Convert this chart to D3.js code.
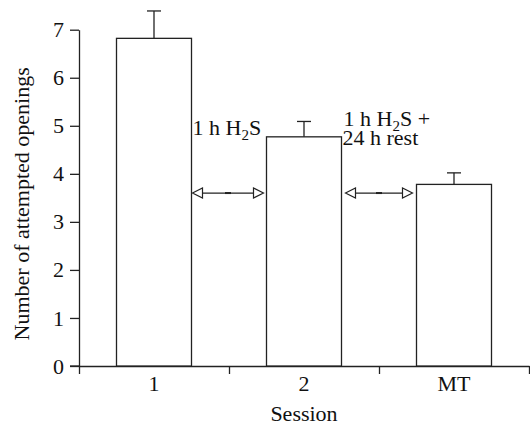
<!DOCTYPE html>
<html>
<head>
<meta charset="utf-8">
<script src="https://cdn.jsdelivr.net/npm/d3@7"></script>
<style>
  body { margin: 0; background: #fff; }
  svg text { font-family: "Times New Roman", "Liberation Serif", Times, serif; fill: #111; }
</style>
</head>
<body>
<svg id="chart" width="530" height="425"></svg>
<script>
// chart data
var sessions = ["1", "2", "MT"];
var meanOpenings = [6.82, 4.77, 3.78];
var errUpper = [0.57, 0.32, 0.24];
var yTicks = [0, 1, 2, 3, 4, 5, 6, 7];
var arrowLevel = 3.6;

var svg = d3.select("#chart");
var ink = "#222";
var serif = '"Times New Roman", "Liberation Serif", Times, serif';

var x = d3.scaleBand().domain(sessions).range([79, 529]).paddingInner(0).paddingOuter(0);
var xEdge = d3.scaleLinear().domain([0, 3]).range([79, 529]);
var y = d3.scaleLinear().domain([0, 7]).range([366, 29.7]);
var barW = x.bandwidth() / 2;

// y axis
var yAxis = svg.append("g")
    .attr("transform", "translate(79,0)")
    .call(d3.axisLeft(y).tickValues(yTicks).tickFormat(d3.format("d")).tickSize(9).tickSizeOuter(0).tickPadding(6));
yAxis.select(".domain").attr("stroke", ink).attr("stroke-width", 1.3);
yAxis.selectAll("line").attr("stroke", ink).attr("stroke-width", 1.3);
yAxis.selectAll("text").style("font-size", "22px").attr("fill", "#111")
    .style("font-family", serif);

// x axis: ticks at band boundaries, labels at band centres
var xTicks = svg.append("g")
    .attr("transform", "translate(0,366)")
    .call(d3.axisBottom(xEdge).tickValues([0, 1, 2, 3]).tickFormat("").tickSize(8).tickSizeOuter(0));
xTicks.select(".domain").attr("stroke", ink).attr("stroke-width", 1.3);
xTicks.selectAll("line").attr("stroke", ink).attr("stroke-width", 1.3);

var xLabels = svg.append("g")
    .attr("transform", "translate(0,366)")
    .call(d3.axisBottom(x).tickSize(0).tickPadding(9));
xLabels.select(".domain").remove();
xLabels.selectAll("text").style("font-size", "22px").attr("fill", "#111")
    .style("font-family", serif);

// extend x axis left to the 0 tick
svg.append("line")
    .attr("x1", 70).attr("x2", 79).attr("y1", y(0)).attr("y2", y(0))
    .attr("stroke", ink).attr("stroke-width", 1.3);

// bars
var barData = sessions.map(function(s, i) { return {s: s, v: meanOpenings[i], e: errUpper[i]}; });
svg.selectAll("rect.bar").data(barData).enter().append("rect")
    .attr("class", "bar")
    .attr("x", function(d) { return x(d.s) + x.bandwidth() / 2 - barW / 2; })
    .attr("y", function(d) { return y(d.v); })
    .attr("width", barW)
    .attr("height", function(d) { return y(0) - y(d.v); })
    .attr("fill", "#fff").attr("stroke", ink).attr("stroke-width", 1.3);

// error bars (upper only)
var eb = svg.selectAll("g.err").data(barData).enter().append("g").attr("class", "err");
eb.append("line")
    .attr("x1", function(d) { return x(d.s) + x.bandwidth() / 2; })
    .attr("x2", function(d) { return x(d.s) + x.bandwidth() / 2; })
    .attr("y1", function(d) { return y(d.v); })
    .attr("y2", function(d) { return y(d.v + d.e); })
    .attr("stroke", ink).attr("stroke-width", 1.3);
eb.append("line")
    .attr("x1", function(d) { return x(d.s) + x.bandwidth() / 2 - 7; })
    .attr("x2", function(d) { return x(d.s) + x.bandwidth() / 2 + 7; })
    .attr("y1", function(d) { return y(d.v + d.e); })
    .attr("y2", function(d) { return y(d.v + d.e); })
    .attr("stroke", ink).attr("stroke-width", 1.3);

// double-headed arrows between bars
function rightEdge(i) { return x(sessions[i]) + x.bandwidth() / 2 + barW / 2; }
function leftEdge(i) { return x(sessions[i]) + x.bandwidth() / 2 - barW / 2; }

function arrow(x1, x2, yy) {
    var g = svg.append("g");
    var head = 10, half = 5;
    g.append("line").attr("x1", x1 + head).attr("x2", x2 - head).attr("y1", yy).attr("y2", yy)
        .attr("stroke", ink).attr("stroke-width", 1.2);
    var mid = (x1 + x2) / 2;
    g.append("line").attr("x1", mid - 3).attr("x2", mid + 3).attr("y1", yy).attr("y2", yy)
        .attr("stroke", ink).attr("stroke-width", 2);
    g.append("path")
        .attr("d", "M" + x1 + "," + yy + "L" + (x1 + head) + "," + (yy - half) + "L" + (x1 + head) + "," + (yy + half) + "Z")
        .attr("fill", "#fff").attr("stroke", ink).attr("stroke-width", 1.2);
    g.append("path")
        .attr("d", "M" + x2 + "," + yy + "L" + (x2 - head) + "," + (yy - half) + "L" + (x2 - head) + "," + (yy + half) + "Z")
        .attr("fill", "#fff").attr("stroke", ink).attr("stroke-width", 1.2);
}
arrow(rightEdge(0) + 1, leftEdge(1) - 3, y(arrowLevel));
arrow(rightEdge(1) + 4, leftEdge(2) - 4, y(arrowLevel));

// annotation text
function h2sText(xx, yy, tail, line2) {
    var txt = svg.append("text").attr("x", xx).attr("y", yy).style("font-size", "22px");
    txt.append("tspan").text("1 h H");
    txt.append("tspan").text("2").style("font-size", "15px").attr("dy", 5);
    txt.append("tspan").text("S" + tail).attr("dy", -5);
    if (line2) {
        txt.append("tspan").attr("x", xx - 1).attr("dy", 19).text(line2);
    }
    return txt;
}
h2sText(rightEdge(0) + 1, y(meanOpenings[1]) - 2, "");
h2sText(rightEdge(1) + 2, y(meanOpenings[1]) - 11, " +", "24 h rest");

// axis titles
svg.append("text")
    .attr("transform", "translate(29," + ((y(0) + y(7)) / 2 + 6) + ") rotate(-90)")
    .attr("text-anchor", "middle").style("font-size", "22px")
    .text("Number of attempted openings");
svg.append("text")
    .attr("x", x("2") + x.bandwidth() / 2).attr("y", 421)
    .attr("text-anchor", "middle").style("font-size", "22px")
    .text("Session");
</script>
</body>
</html>
